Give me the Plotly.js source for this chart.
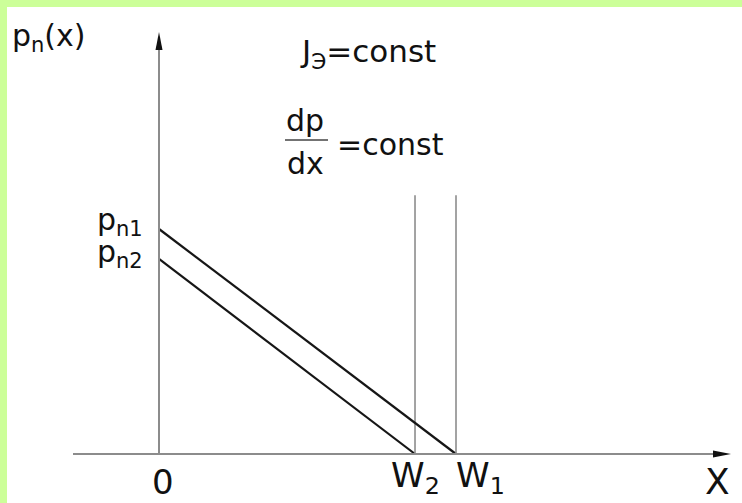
<!DOCTYPE html>
<html>
<head>
<meta charset="utf-8">
<script src="https://cdn.plot.ly/plotly-3.0.1.min.js"></script>
<style>html,body{margin:0;padding:0;background:#fff;}</style>
</head>
<body>
<div id="chart" style="width:742px;height:503px;"></div>
<script>
// Base widths W2, W1 (relative units along x)
const widths = [0.862, 1.0];
const widthLabels = ['W<sub>2</sub>', 'W<sub>1</sub>'];
// Hole concentration at the emitter edge, p_n2 and p_n1
const boundaryConc = [0.867, 1.0];
const concLabels = ['p<sub>n2</sub>', 'p<sub>n1</sub>'];
// Height of the thin markers drawn at each base width
const markerTop = [1.15, 1.15];

const W = 742, H = 503;
// Pixel placement of the origin and of one unit on each axis
const ox = 159, oy = 454, ux = 297, uy = 225;
const xRange = [-ox / ux, (W - ox) / ux];
const yRange = [-(H - oy) / uy, oy / uy];

// pixel -> paper helpers for decorations
const px = v => v / W;
const py = v => 1 - v / H;

const ink = '#161616';
const axisGrey = '#8c8c8c';
const font = 'DejaVu Sans, Liberation Sans, Arial, sans-serif';

const traces = [];
for (let i = 0; i < widths.length; i++) {
  // linear hole profile from p_n at x=0 down to zero at x=W
  traces.push({
    x: [0, widths[i]], y: [boundaryConc[i], 0],
    mode: 'lines', line: {color: ink, width: 2.2}, hoverinfo: 'skip'
  });
  // vertical marker at the base width
  traces.push({
    x: [widths[i], widths[i]], y: [0, markerTop[i]],
    mode: 'lines', line: {color: axisGrey, width: 1.6}, hoverinfo: 'skip'
  });
}

const shapes = [
  // x axis line and arrow
  {type: 'line', xref: 'paper', yref: 'y', x0: px(73), x1: px(714), y0: 0, y1: 0,
   line: {color: axisGrey, width: 2}},
  {type: 'path', xref: 'paper', yref: 'paper',
   path: `M ${px(731)} ${py(454)} L ${px(713)} ${py(450.5)} L ${px(713)} ${py(457.5)} Z`,
   fillcolor: '#111', line: {width: 0}},
  // y axis line and arrow
  {type: 'line', xref: 'x', yref: 'paper', x0: 0, x1: 0, y0: py(454), y1: py(49),
   line: {color: axisGrey, width: 2}},
  {type: 'path', xref: 'paper', yref: 'paper',
   path: `M ${px(159)} ${py(32)} L ${px(155.5)} ${py(50)} L ${px(162.5)} ${py(50)} Z`,
   fillcolor: '#111', line: {width: 0}},
  // fraction bar of dp/dx
  {type: 'line', xref: 'paper', yref: 'paper', x0: px(285), x1: px(328), y0: py(140), y1: py(140),
   line: {color: '#444', width: 1.6}},
  // green frame on the top and left edges
  {type: 'rect', xref: 'paper', yref: 'paper', x0: 0, x1: 1, y0: py(7), y1: 1,
   fillcolor: '#ccff99', line: {width: 0}, layer: 'above'},
  {type: 'rect', xref: 'paper', yref: 'paper', x0: 0, x1: px(7), y0: 0, y1: 1,
   fillcolor: '#ccff99', line: {width: 0}, layer: 'above'}
];

const txt = (text, size, fam) => ({text, showarrow: false, font: {family: fam || font, size, color: '#111'}});
const annotations = [];

// axis titles
annotations.push(Object.assign(txt('p<sub>n</sub>(x)', 30),
  {xref: 'paper', yref: 'paper', x: px(10), y: py(38), xanchor: 'left', yanchor: 'middle'}));
annotations.push(Object.assign(txt('X', 36, 'Liberation Sans Narrow, DejaVu Sans, sans-serif'),
  {xref: 'paper', yref: 'paper', x: px(717), y: py(481), xanchor: 'center', yanchor: 'middle'}));

// tick-like labels on the x axis
annotations.push(Object.assign(txt('0', 34),
  {xref: 'x', yref: 'paper', x: 0, y: py(482), xanchor: 'center', yanchor: 'middle', xshift: 4}));
annotations.push(Object.assign(txt(widthLabels[0], 34),
  {xref: 'x', yref: 'paper', x: widths[0], y: py(477), xanchor: 'center', yanchor: 'middle'}));
annotations.push(Object.assign(txt(widthLabels[1], 34),
  {xref: 'x', yref: 'paper', x: widths[1], y: py(477), xanchor: 'left', yanchor: 'middle', xshift: -2}));

// labels of the boundary concentrations on the y axis
annotations.push(Object.assign(txt(concLabels[1], 30),
  {xref: 'x', yref: 'y', x: 0, y: boundaryConc[1], xanchor: 'right', yanchor: 'middle', xshift: -14, yshift: 8}));
annotations.push(Object.assign(txt(concLabels[0], 30),
  {xref: 'x', yref: 'y', x: 0, y: boundaryConc[0], xanchor: 'right', yanchor: 'middle', xshift: -14, yshift: 5}));

// conditions
annotations.push(Object.assign(txt('J<sub>Э</sub>=const', 31),
  {xref: 'paper', yref: 'paper', x: px(298), y: py(53), xanchor: 'left', yanchor: 'middle'}));
annotations.push(Object.assign(txt('dp', 30),
  {xref: 'paper', yref: 'paper', x: px(305), y: py(121), xanchor: 'center', yanchor: 'middle'}));
annotations.push(Object.assign(txt('dx', 30),
  {xref: 'paper', yref: 'paper', x: px(305), y: py(163), xanchor: 'center', yanchor: 'middle'}));
annotations.push(Object.assign(txt('=const', 30),
  {xref: 'paper', yref: 'paper', x: px(335), y: py(144), xanchor: 'left', yanchor: 'middle'}));

const layout = {
  width: W, height: H,
  margin: {l: 0, r: 0, t: 0, b: 0, pad: 0},
  paper_bgcolor: '#ffffff', plot_bgcolor: '#ffffff',
  showlegend: false,
  xaxis: {range: xRange, visible: false, fixedrange: true},
  yaxis: {range: yRange, visible: false, fixedrange: true},
  shapes, annotations
};

Plotly.newPlot('chart', traces, layout, {staticPlot: true, displayModeBar: false});
</script>
</body>
</html>
